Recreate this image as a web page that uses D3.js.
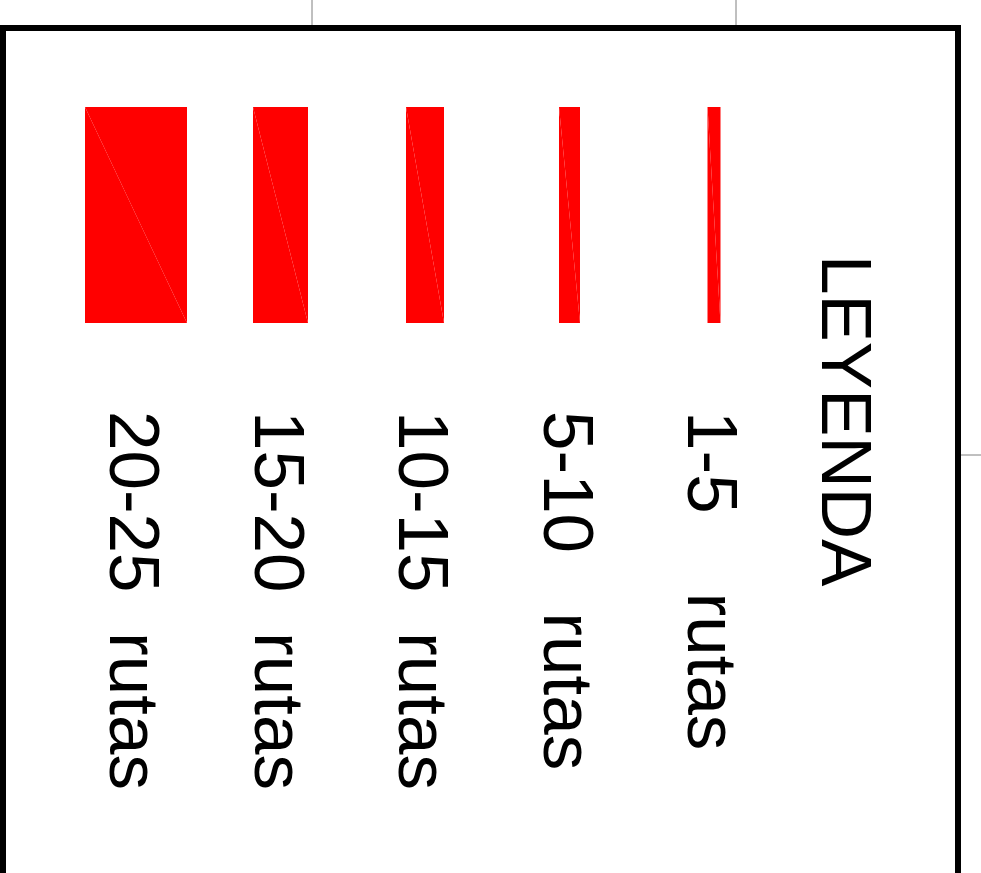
<!DOCTYPE html>
<html>
<head>
<meta charset="utf-8">
<script src="https://cdn.jsdelivr.net/npm/d3@7"></script>
<style>
  body { margin: 0; background: #fff; }
  svg { display: block; }
</style>
</head>
<body>
<div id="chart"></div>
<script>
// datos de la leyenda
const titulo = 'LEYENDA';
const clases = ['1-5    rutas', '5-10   rutas', '10-15  rutas', '15-20  rutas', '20-25  rutas'];
const grosor = [1.3, 2.1, 3.8, 5.5, 10.2];   // grosor de línea de cada clase
const rejillaX = [312, 736];                  // líneas de la cuadrícula del mapa
const rejillaY = [455];

const width = 981, height = 873;

const svg = d3.select('#chart').append('svg')
  .attr('width', width)
  .attr('height', height);

// cuadrícula del mapa (queda tapada por el recuadro)
svg.selectAll('.gx').data(rejillaX).enter().append('line')
  .attr('x1', d => d).attr('x2', d => d)
  .attr('y1', 0).attr('y2', height)
  .attr('stroke', '#808080').attr('stroke-width', 1);
svg.selectAll('.gy').data(rejillaY).enter().append('line')
  .attr('x1', 0).attr('x2', width)
  .attr('y1', d => d).attr('y2', d => d)
  .attr('stroke', '#808080').attr('stroke-width', 1);

// leyenda girada 90 grados
const g = svg.append('g')
  .attr('transform', 'translate(958,0) rotate(90)');

// recuadro
g.append('rect')
  .attr('x', 28).attr('y', 0)
  .attr('width', 1000).attr('height', 955)
  .attr('fill', '#fff')
  .attr('stroke', '#000')
  .attr('stroke-width', 6);

g.append('text')
  .attr('x', 255)
  .attr('y', 136)
  .style('font-family', '"Liberation Sans", Arial, sans-serif')
  .style('font-size', '71px')
  .text(titulo);

// escalas
const fila = d3.scalePoint().domain(clases).range([270, 848]);
const ancho = d3.scaleLinear().domain([0, d3.max(grosor)]).range([0, 102]);
const u0 = 107, u1 = 323;

const filas = g.selectAll('.fila').data(clases).enter().append('g')
  .attr('class', 'fila');

// cada muestra como dos triángulos (se ve la costura)
filas.selectAll('path')
  .data((d, i) => {
    const c = fila(d) - 26, h = ancho(grosor[i]) / 2;
    const a = c - h, b = c + h;
    return [
      [[u0, a], [u1, a], [u0, b]],
      [[u1, a], [u1, b], [u0, b]]
    ];
  })
  .enter().append('path')
  .attr('d', d => 'M' + d.join('L') + 'Z')
  .attr('fill', '#ff0000');

filas.append('text')
  .attr('x', 411)
  .attr('y', d => fila(d))
  .style('font-family', '"Liberation Sans", Arial, sans-serif')
  .style('font-size', '71px')
  .style('white-space', 'pre')
  .text(d => d);
</script>
</body>
</html>
